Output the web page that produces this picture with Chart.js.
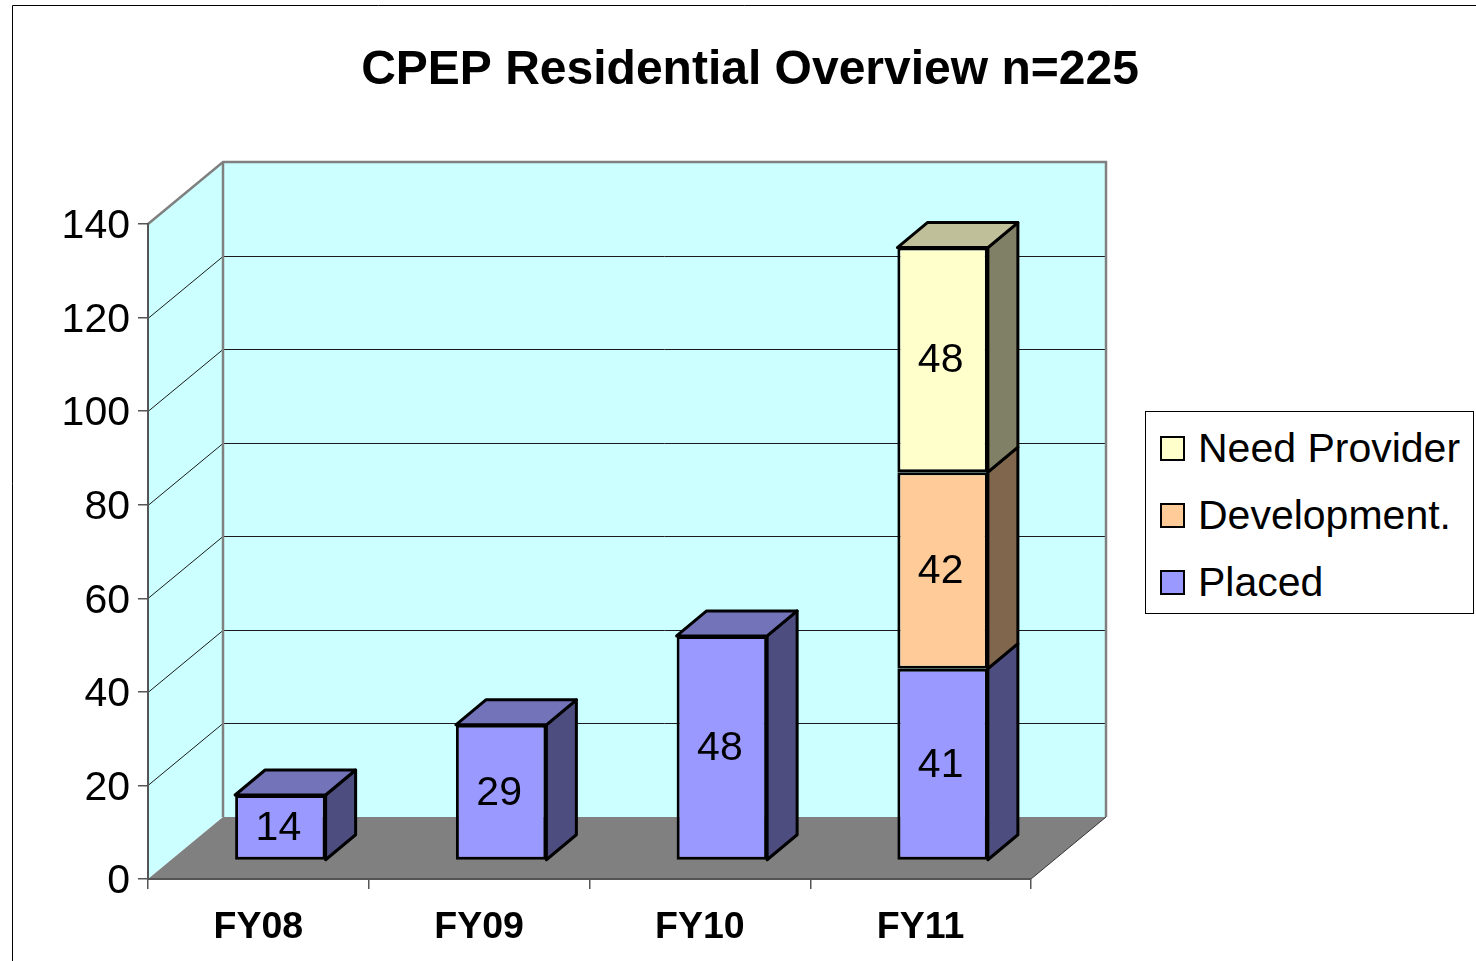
<!DOCTYPE html>
<html>
<head>
<meta charset="utf-8">
<title>CPEP Residential Overview</title>
<script src="https://cdn.jsdelivr.net/npm/chart.js@4"></script>
<style>
    html, body { margin: 0; padding: 0; background: #fff; overflow: hidden; }
    #wrap { position: relative; width: 1476px; height: 961px; }
    canvas { position: absolute; left: 0; top: 0; }
    #legend {
        position: absolute; left: 1145px; top: 411px; width: 327px; height: 201px;
        border: 1px solid #000; background: #fff;
        font: 41px "Liberation Sans", Arial, sans-serif; color: #000;
    }
    .legend-row { position: absolute; left: 14px; display: flex; align-items: center; height: 50px; white-space: nowrap; }
    .legend-box { width: 21px; height: 21px; border: 2px solid #000; margin-right: 13px; }
</style>
</head>
<body>
<div id="wrap">
    <canvas id="chart" width="1476" height="961"></canvas>
    <div id="legend"></div>
</div>
<script>
const categories = ['FY08', 'FY09', 'FY10', 'FY11'];
const placed = [14, 29, 48, 41];
const development = [null, null, null, 42];
const needProvider = [null, null, null, 48];
const yTicks = [0, 20, 40, 60, 80, 100, 120, 140];

// 3D look: how far the back wall and the bars are pushed back
const WALL_DX = 75, WALL_DY = -62;
const BAR_SHIFT_X = 22, BAR_SHIFT_Y = -18.5;
const BAR_DX = 30, BAR_DY = -25;

const FONT = '"Liberation Sans", Arial, sans-serif';

function poly(ctx, pts, fill, stroke, lw) {
    ctx.beginPath();
    pts.forEach((p, i) => i ? ctx.lineTo(p[0], p[1]) : ctx.moveTo(p[0], p[1]));
    ctx.closePath();
    if (fill) { ctx.fillStyle = fill; ctx.fill(); }
    if (stroke) { ctx.strokeStyle = stroke; ctx.lineWidth = lw; ctx.lineJoin = 'round'; ctx.stroke(); }
}

const threeD = {
    id: 'threeD',
    beforeDraw(chart) {
        const ctx = chart.ctx;
        const { left, right } = chart.scales.x;
        const y = chart.scales.y;
        const top = y.getPixelForValue(140), bottom = y.getPixelForValue(0);
        ctx.save();
        // outer frame runs off the right and bottom of the picture
        ctx.strokeStyle = '#000';
        ctx.lineWidth = 1;
        ctx.beginPath();
        ctx.moveTo(1476, 5.5);
        ctx.lineTo(12.5, 5.5);
        ctx.lineTo(12.5, 961);
        ctx.stroke();

        // walls and floor
        poly(ctx, [[left, top], [left + WALL_DX, top + WALL_DY], [left + WALL_DX, bottom + WALL_DY], [left, bottom]], '#CCFFFF');
        poly(ctx, [[left + WALL_DX, top + WALL_DY], [right + WALL_DX, top + WALL_DY], [right + WALL_DX, bottom + WALL_DY], [left + WALL_DX, bottom + WALL_DY]], '#CCFFFF');
        poly(ctx, [[left, bottom], [left + WALL_DX, bottom + WALL_DY], [right + WALL_DX, bottom + WALL_DY], [right, bottom]], '#808080');

        // gridlines
        ctx.strokeStyle = '#1a1a1a';
        ctx.lineWidth = 1;
        yTicks.slice(1, -1).forEach(v => {
            const py = Math.round(y.getPixelForValue(v)) + 0.5;
            ctx.beginPath();
            ctx.moveTo(left, py);
            ctx.lineTo(left + WALL_DX, py + WALL_DY);
            ctx.lineTo(right + WALL_DX, py + WALL_DY);
            ctx.stroke();
        });

        // wall outlines
        ctx.strokeStyle = '#808080';
        ctx.lineWidth = 2.5;
        ctx.beginPath();
        ctx.moveTo(left, top);
        ctx.lineTo(left + WALL_DX, top + WALL_DY);
        ctx.lineTo(right + WALL_DX, top + WALL_DY);
        ctx.lineTo(right + WALL_DX, bottom + WALL_DY);
        ctx.moveTo(left + WALL_DX, top + WALL_DY);
        ctx.lineTo(left + WALL_DX, bottom + WALL_DY);
        ctx.stroke();

        // front right edge of the floor
        ctx.strokeStyle = '#333';
        ctx.lineWidth = 1;
        ctx.beginPath();
        ctx.moveTo(right, bottom);
        ctx.lineTo(right + WALL_DX, bottom + WALL_DY);
        ctx.stroke();
        ctx.restore();
    },
    beforeDatasetsDraw(chart) {
        const ctx = chart.ctx;
        ctx.save();
        ctx.translate(BAR_SHIFT_X, BAR_SHIFT_Y);
        chart.data.datasets.forEach((ds, di) => {
            chart.getDatasetMeta(di).data.forEach((bar, i) => {
                if (ds.data[i] == null) return;
                const x2 = bar.x + bar.width / 2, x1 = bar.x - bar.width / 2;
                const yt = bar.y, yb = bar.base;
                poly(ctx, [[x2, yt], [x2 + BAR_DX, yt + BAR_DY], [x2 + BAR_DX, yb + BAR_DY], [x2, yb]], ds.sideColor, '#000', 3);
                // only the top of each stack shows its lid
                const above = chart.data.datasets.slice(di + 1).some(d => d.data[i] != null);
                if (!above) {
                    poly(ctx, [[x1, yt], [x1 + BAR_DX, yt + BAR_DY], [x2 + BAR_DX, yt + BAR_DY], [x2, yt]], ds.topColor, '#000', 3);
                }
            });
        });
    },
    afterDatasetsDraw(chart) {
        const ctx = chart.ctx;
        // value labels, still shifted with the bars
        ctx.font = '41px ' + FONT;
        ctx.fillStyle = '#000';
        ctx.textAlign = 'center';
        ctx.textBaseline = 'middle';
        chart.data.datasets.forEach((ds, di) => {
            chart.getDatasetMeta(di).data.forEach((bar, i) => {
                if (ds.data[i] == null) return;
                ctx.fillText(ds.data[i], bar.x - 2, (bar.y + bar.base) / 2 + 1);
            });
        });
        ctx.restore();
    }
};

const chart = new Chart(document.getElementById('chart'), {
    type: 'bar',
    data: {
        labels: categories,
        datasets: [
            { label: 'Placed', data: placed, backgroundColor: '#9999FF', sideColor: '#4D4D80', topColor: '#7373B9' },
            { label: 'Development.', data: development, backgroundColor: '#FFCC99', sideColor: '#80664D', topColor: '#BF9973' },
            { label: 'Need Provider', data: needProvider, backgroundColor: '#FFFFCC', sideColor: '#808066', topColor: '#BFBF99' }
        ].map(d => ({ ...d, borderColor: '#000', borderWidth: 3, borderSkipped: false, barPercentage: 0.41, categoryPercentage: 1 }))
    },
    options: {
        responsive: false,
        animation: false,
        layout: { padding: { left: 24, right: 0, top: 0, bottom: 0 } },
        plugins: {
            legend: { display: false },
            tooltip: { enabled: false },
            title: {
                display: true,
                text: 'CPEP Residential Overview n=225',
                color: '#000',
                font: { family: FONT, size: 48, weight: 'bold', lineHeight: 1.2 },
                padding: { top: 42, bottom: 124.4 }
            }
        },
        scales: {
            x: {
                stacked: true,
                afterFit: s => { s.height = 82; },
                border: { color: '#555', width: 2 },
                grid: { drawOnChartArea: false, drawTicks: true, tickLength: 10, color: '#555', lineWidth: 1.5 },
                ticks: { color: '#000', maxRotation: 0, padding: 16, font: { family: FONT, size: 37.5, weight: 'bold' } }
            },
            y: {
                stacked: true,
                min: 0,
                max: 140,
                afterFit: s => { s.width = 124; },
                border: { color: '#555', width: 2 },
                grid: { drawOnChartArea: false, drawTicks: true, tickLength: 10, color: '#555', lineWidth: 1.5 },
                ticks: { stepSize: 20, color: '#000', padding: 8, labelOffset: 3, font: { family: FONT, size: 41 } }
            },
            // empty axis, only keeps room for the legend on the right
            spacer: {
                axis: 'y',
                position: 'right',
                afterFit: s => { s.width = 445; },
                border: { display: false },
                grid: { display: false },
                ticks: { display: false }
            }
        }
    },
    plugins: [threeD]
});

// Legend, top entry is the top of the stack
const legendEl = document.getElementById('legend');
chart.data.datasets.slice().reverse().forEach((ds, i) => {
    const row = document.createElement('div');
    row.className = 'legend-row';
    row.style.top = (11 + i * 67) + 'px';
    row.innerHTML = `<span class="legend-box" style="background:${ds.backgroundColor}"></span><span>${ds.label}</span>`;
    legendEl.appendChild(row);
});
</script>
</body>
</html>
